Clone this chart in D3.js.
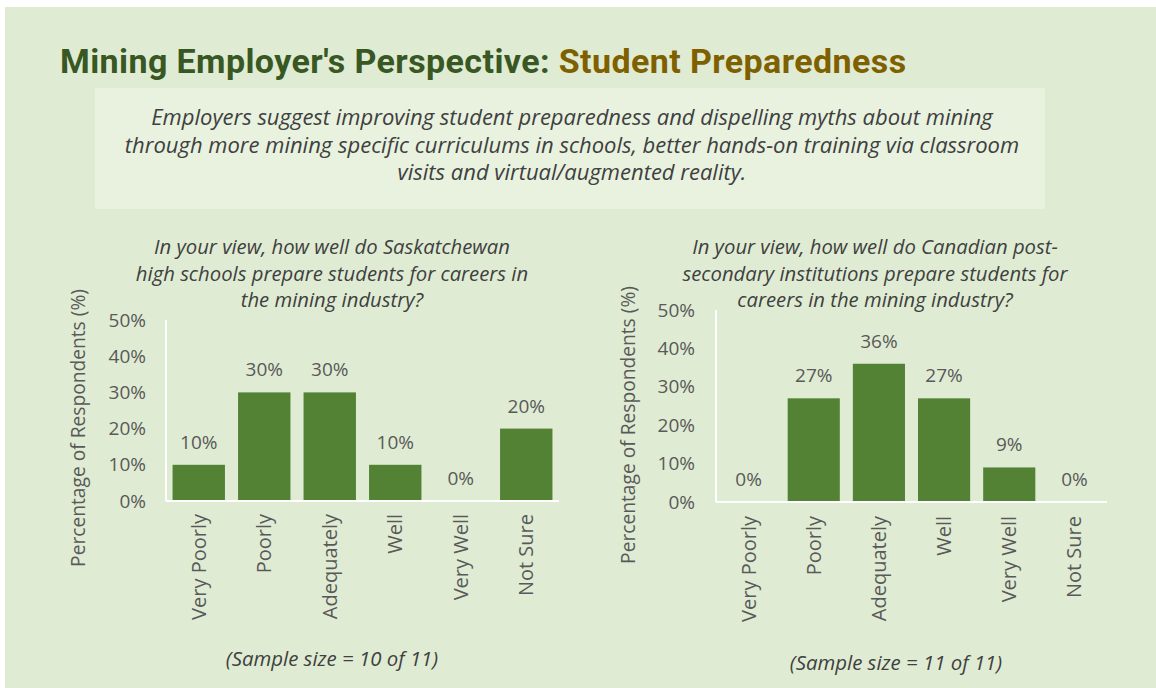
<!DOCTYPE html>
<html>
<head>
<meta charset="utf-8">
<script src="https://cdn.jsdelivr.net/npm/d3@7"></script>
<style>
  html, body { margin: 0; padding: 0; background: #ffffff; }
  svg { display: block; }
</style>
</head>
<body>
<svg id="chart" width="1156" height="688"></svg>
<script>
// Response categories shared by both survey questions
const categories = ["Very Poorly", "Poorly", "Adequately", "Well", "Very Well", "Not Sure"];

// Share of respondents (%) for each question
const highSchoolValues = [10, 30, 30, 10, 0, 20];
const postSecondaryValues = [0, 27, 36, 27, 9, 0];

// Y-axis tick values (%)
const yTicks = [0, 10, 20, 30, 40, 50];

const titleParts = ["Mining Employer's Perspective: ", "Student Preparedness"];
const summaryLines = [
  "Employers suggest improving student preparedness and dispelling myths about mining",
  "through more mining specific curriculums in schools, better hands-on training via classroom",
  "visits and virtual/augmented reality."
];
const highSchoolQuestion = [
  "In your view, how well do Saskatchewan",
  "high schools prepare students for careers in",
  "the mining industry?"
];
const postSecondaryQuestion = [
  "In your view, how well do Canadian post-",
  "secondary institutions prepare students for",
  "careers in the mining industry?"
];
const sampleNotes = ["(Sample size = 10 of 11)", "(Sample size = 11 of 11)"];
const yAxisTitle = "Percentage of Respondents (%)";

const FONT = "'Open Sans', 'Noto Sans', sans-serif";
const BAR = "#548235";
const TICK_TEXT = "#595959";
const DARK_TEXT = "#404040";

const svg = d3.select("#chart");

// Page panel
svg.append("rect")
  .attr("x", 5).attr("y", 7).attr("width", 1151).attr("height", 681)
  .attr("fill", "#dfecd3");

// Headline
const title = svg.append("text")
  .attr("x", 60).attr("y", 73)
  .attr("font-family", "Roboto, sans-serif")
  .attr("font-weight", 700)
  .attr("font-size", 34)
  .attr("letter-spacing", 0.4);
title.append("tspan").attr("fill", "#385723").text(titleParts[0]);
title.append("tspan").attr("fill", "#7f6000").text(titleParts[1]);

// Summary box
svg.append("rect")
  .attr("x", 95).attr("y", 88).attr("width", 950).attr("height", 121)
  .attr("fill", "#e8f2df");
svg.append("g").selectAll("text")
  .data(summaryLines)
  .join("text")
  .attr("x", 572)
  .attr("y", (d, i) => 125 + i * 27.5)
  .attr("text-anchor", "middle")
  .attr("font-family", FONT)
  .attr("font-style", "italic")
  .attr("font-size", 22)
  .attr("fill", DARK_TEXT)
  .text(d => d);

function drawChart(cfg) {
  const g = svg.append("g");

  const x = d3.scaleBand()
    .domain(categories)
    .range([cfg.x0, cfg.x1])
    .paddingInner(0.2)
    .paddingOuter(0.1);

  const y = d3.scaleLinear()
    .domain([0, 50])
    .range([cfg.yBase, cfg.yTop]);

  // Question title
  g.append("g").selectAll("text")
    .data(cfg.question)
    .join("text")
    .attr("x", cfg.titleX)
    .attr("y", (d, i) => cfg.titleY + i * 26.5)
    .attr("text-anchor", "middle")
    .attr("font-family", FONT)
    .attr("font-style", "italic")
    .attr("font-size", 20.3)
    .attr("fill", DARK_TEXT)
    .text(d => d);

  // Bars
  g.append("g").selectAll("rect")
    .data(cfg.values)
    .join("rect")
    .attr("x", (d, i) => x(categories[i]))
    .attr("y", d => y(d))
    .attr("width", x.bandwidth())
    .attr("height", d => y(0) - y(d))
    .attr("fill", BAR);

  // Value labels
  g.append("g").selectAll("text")
    .data(cfg.values)
    .join("text")
    .attr("x", (d, i) => x(categories[i]) + x.bandwidth() / 2)
    .attr("y", d => y(d) - 16)
    .attr("text-anchor", "middle")
    .attr("font-family", FONT)
    .attr("font-size", 19)
    .attr("fill", TICK_TEXT)
    .text(d => d + "%");

  // Y axis labels
  const yAxis = g.append("g")
    .attr("transform", `translate(${cfg.x0},0)`)
    .call(d3.axisLeft(y).tickValues(yTicks).tickSize(0).tickPadding(cfg.tickPad).tickFormat(d => d + "%"));
  yAxis.select(".domain").remove();
  yAxis.selectAll("text")
    .attr("font-family", FONT)
    .attr("font-size", 19)
    .attr("fill", TICK_TEXT);

  // X axis labels (rotated)
  const xAxis = g.append("g")
    .attr("transform", `translate(0,${cfg.yBase})`)
    .call(d3.axisBottom(x).tickSize(0));
  xAxis.select(".domain").remove();
  xAxis.selectAll("text")
    .attr("font-family", FONT)
    .attr("font-size", 20)
    .attr("fill", TICK_TEXT)
    .attr("text-anchor", "end")
    .attr("transform", "rotate(-90)")
    .attr("x", -cfg.xLabelGap)
    .attr("y", 0)
    .attr("dy", "0.35em");

  // Axis lines
  g.append("line")
    .attr("x1", cfg.x0).attr("x2", cfg.x0)
    .attr("y1", y(50)).attr("y2", y(0))
    .attr("stroke", "#ffffff").attr("stroke-width", 2);
  g.append("line")
    .attr("x1", cfg.x0).attr("x2", cfg.x1)
    .attr("y1", y(0)).attr("y2", y(0))
    .attr("stroke", "#ffffff").attr("stroke-width", 2);

  // Y axis title
  g.append("text")
    .attr("transform", `translate(${cfg.yTitleX},${cfg.yTitleY}) rotate(-90)`)
    .attr("text-anchor", "middle")
    .attr("dy", "0.35em")
    .attr("font-family", FONT)
    .attr("font-size", 19.2)
    .attr("fill", TICK_TEXT)
    .text(yAxisTitle);

  // Sample size note
  g.append("text")
    .attr("x", cfg.noteX).attr("y", cfg.noteY)
    .attr("text-anchor", "middle")
    .attr("dy", "0.35em")
    .attr("font-family", FONT)
    .attr("font-style", "italic")
    .attr("font-size", 20.4)
    .attr("fill", DARK_TEXT)
    .text(cfg.note);
}

drawChart({
  values: highSchoolValues,
  question: highSchoolQuestion,
  note: sampleNotes[0],
  x0: 166, x1: 559,
  yBase: 501, yTop: 320,
  tickPad: 20,
  xLabelGap: 13,
  titleX: 332, titleY: 254,
  yTitleX: 78, yTitleY: 428,
  noteX: 332, noteY: 659
});

drawChart({
  values: postSecondaryValues,
  question: postSecondaryQuestion,
  note: sampleNotes[1],
  x0: 716, x1: 1107,
  yBase: 502, yTop: 310,
  tickPad: 21,
  xLabelGap: 14,
  titleX: 875, titleY: 254,
  yTitleX: 628, yTitleY: 425,
  noteX: 896, noteY: 663
});
</script>
</body>
</html>
